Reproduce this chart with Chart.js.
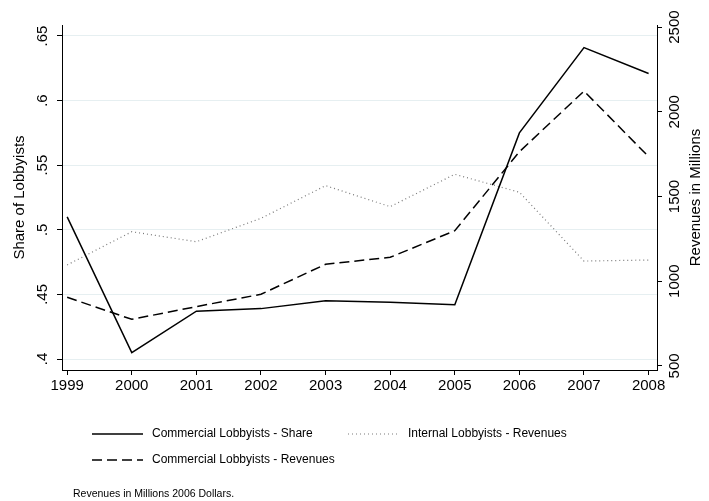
<!DOCTYPE html>
<html>
<head>
<meta charset="utf-8">
<script src="https://cdn.jsdelivr.net/npm/chart.js@4"></script>
<style>
  html, body { margin: 0; padding: 0; background: #fff; }
  #chart { display: block; }
</style>
</head>
<body>
<canvas id="chart" width="709" height="501"></canvas>
<script>
// data
const years = [1999, 2000, 2001, 2002, 2003, 2004, 2005, 2006, 2007, 2008];
const commercialShare = [0.510, 0.405, 0.437, 0.439, 0.445, 0.444, 0.442, 0.575, 0.641, 0.621];
const commercialRevenues = [905, 775, 850, 923, 1100, 1141, 1298, 1764, 2122, 1735];
const internalRevenues = [1096, 1292, 1233, 1371, 1564, 1440, 1631, 1525, 1119, 1125];

const leftTicks = [0.4, 0.45, 0.5, 0.55, 0.6, 0.65];
const rightTicks = [500, 1000, 1500, 2000, 2500];
const leftTitle = "Share of Lobbyists";
const rightTitle = "Revenues in Millions";
const noteText = "Revenues in Millions 2006 Dollars.";

const FONT = "'Liberation Sans', Arial, Helvetica, sans-serif";

const shareLabel = (v) => String(v).replace(/^0/, "");

// vertical tick labels + titles, legend and note drawn by hand
const stataBits = {
  id: "stataBits",
  afterDraw(chart) {
    const ctx = chart.ctx;
    const yL = chart.scales.yL;
    const yR = chart.scales.yR;
    const area = chart.chartArea;

    const vText = (txt, x, y, size) => {
      ctx.save();
      ctx.translate(x, y);
      ctx.rotate(-Math.PI / 2);
      ctx.font = `${size}px ${FONT}`;
      ctx.fillStyle = "#000";
      ctx.textAlign = "center";
      ctx.textBaseline = "middle";
      ctx.fillText(txt, 0, 0);
      ctx.restore();
    };

    leftTicks.forEach((v) => vText(shareLabel(v), 43, yL.getPixelForValue(v), 15));
    rightTicks.forEach((v) => vText(String(v), 675, yR.getPixelForValue(v), 15));
    const midY = (area.top + area.bottom) / 2;
    vText(leftTitle, 20, midY, 15);
    vText(rightTitle, 696, midY, 15);

    // legend
    const ds = chart.data.datasets;
    const slots = [
      { i: 0, x: 92, y: 434 },
      { i: 2, x: 348, y: 434 },
      { i: 1, x: 92, y: 460 },
    ];
    slots.forEach((s) => {
      const d = ds[s.i];
      ctx.save();
      ctx.strokeStyle = d.borderColor;
      ctx.lineWidth = d.borderWidth;
      ctx.setLineDash(d.borderDash || []);
      ctx.beginPath();
      ctx.moveTo(s.x, s.y);
      ctx.lineTo(s.x + 51, s.y);
      ctx.stroke();
      ctx.restore();
      ctx.save();
      ctx.font = `12px ${FONT}`;
      ctx.fillStyle = "#000";
      ctx.textBaseline = "middle";
      ctx.fillText(d.label, s.x + 60, s.y);
      ctx.restore();
    });

    ctx.save();
    ctx.font = `10.5px ${FONT}`;
    ctx.fillStyle = "#000";
    ctx.textBaseline = "middle";
    ctx.fillText(noteText, 73, 494);
    ctx.restore();
  },
};

new Chart(document.getElementById("chart"), {
  type: "line",
  data: {
    datasets: [
      {
        label: "Commercial Lobbyists - Share",
        data: years.map((y, i) => ({ x: y, y: commercialShare[i] })),
        yAxisID: "yL",
        borderColor: "#000",
        borderWidth: 1.5,
        pointRadius: 0,
        tension: 0,
      },
      {
        label: "Commercial Lobbyists - Revenues",
        data: years.map((y, i) => ({ x: y, y: commercialRevenues[i] })),
        yAxisID: "yR",
        borderColor: "#000",
        borderWidth: 1.5,
        borderDash: [10, 5],
        pointRadius: 0,
        tension: 0,
      },
      {
        label: "Internal Lobbyists - Revenues",
        data: years.map((y, i) => ({ x: y, y: internalRevenues[i] })),
        yAxisID: "yR",
        borderColor: "#7a7a7a",
        borderWidth: 1.2,
        borderDash: [1, 3],
        pointRadius: 0,
        tension: 0,
      },
    ],
  },
  options: {
    responsive: false,
    animation: false,
    devicePixelRatio: 1,
    layout: { padding: { top: 25, left: 0, right: 0, bottom: 0 } },
    plugins: { legend: { display: false }, tooltip: { enabled: false } },
    scales: {
      x: {
        type: "linear",
        min: 1998.92,
        max: 2008.13,
        afterBuildTicks: (s) => { s.ticks = years.map((v) => ({ value: v })); },
        afterFit: (s) => { s.height = 131; },
        border: { display: true, color: "#000", width: 1 },
        grid: { drawOnChartArea: false, drawTicks: true, tickLength: 5, tickColor: "#000" },
        ticks: {
          color: "#000",
          font: { family: FONT, size: 15 },
          padding: 2,
          maxRotation: 0,
          callback: (v) => String(v),
        },
      },
      yL: {
        type: "linear",
        position: "left",
        min: 0.3915,
        max: 0.6585,
        afterBuildTicks: (s) => { s.ticks = leftTicks.map((v) => ({ value: v })); },
        afterFit: (s) => { s.width = 62; },
        border: { display: true, color: "#000", width: 1 },
        grid: { color: "#e6eff1", lineWidth: 1, drawTicks: true, tickLength: 5, tickColor: "#000" },
        ticks: { display: false },
      },
      yR: {
        type: "linear",
        position: "right",
        min: 476,
        max: 2512,
        afterBuildTicks: (s) => { s.ticks = rightTicks.map((v) => ({ value: v })); },
        afterFit: (s) => { s.width = 52; },
        border: { display: true, color: "#000", width: 1 },
        grid: { drawOnChartArea: false, drawTicks: true, tickLength: 5, tickColor: "#000" },
        ticks: { display: false },
      },
    },
  },
  plugins: [stataBits],
});
</script>
</body>
</html>
